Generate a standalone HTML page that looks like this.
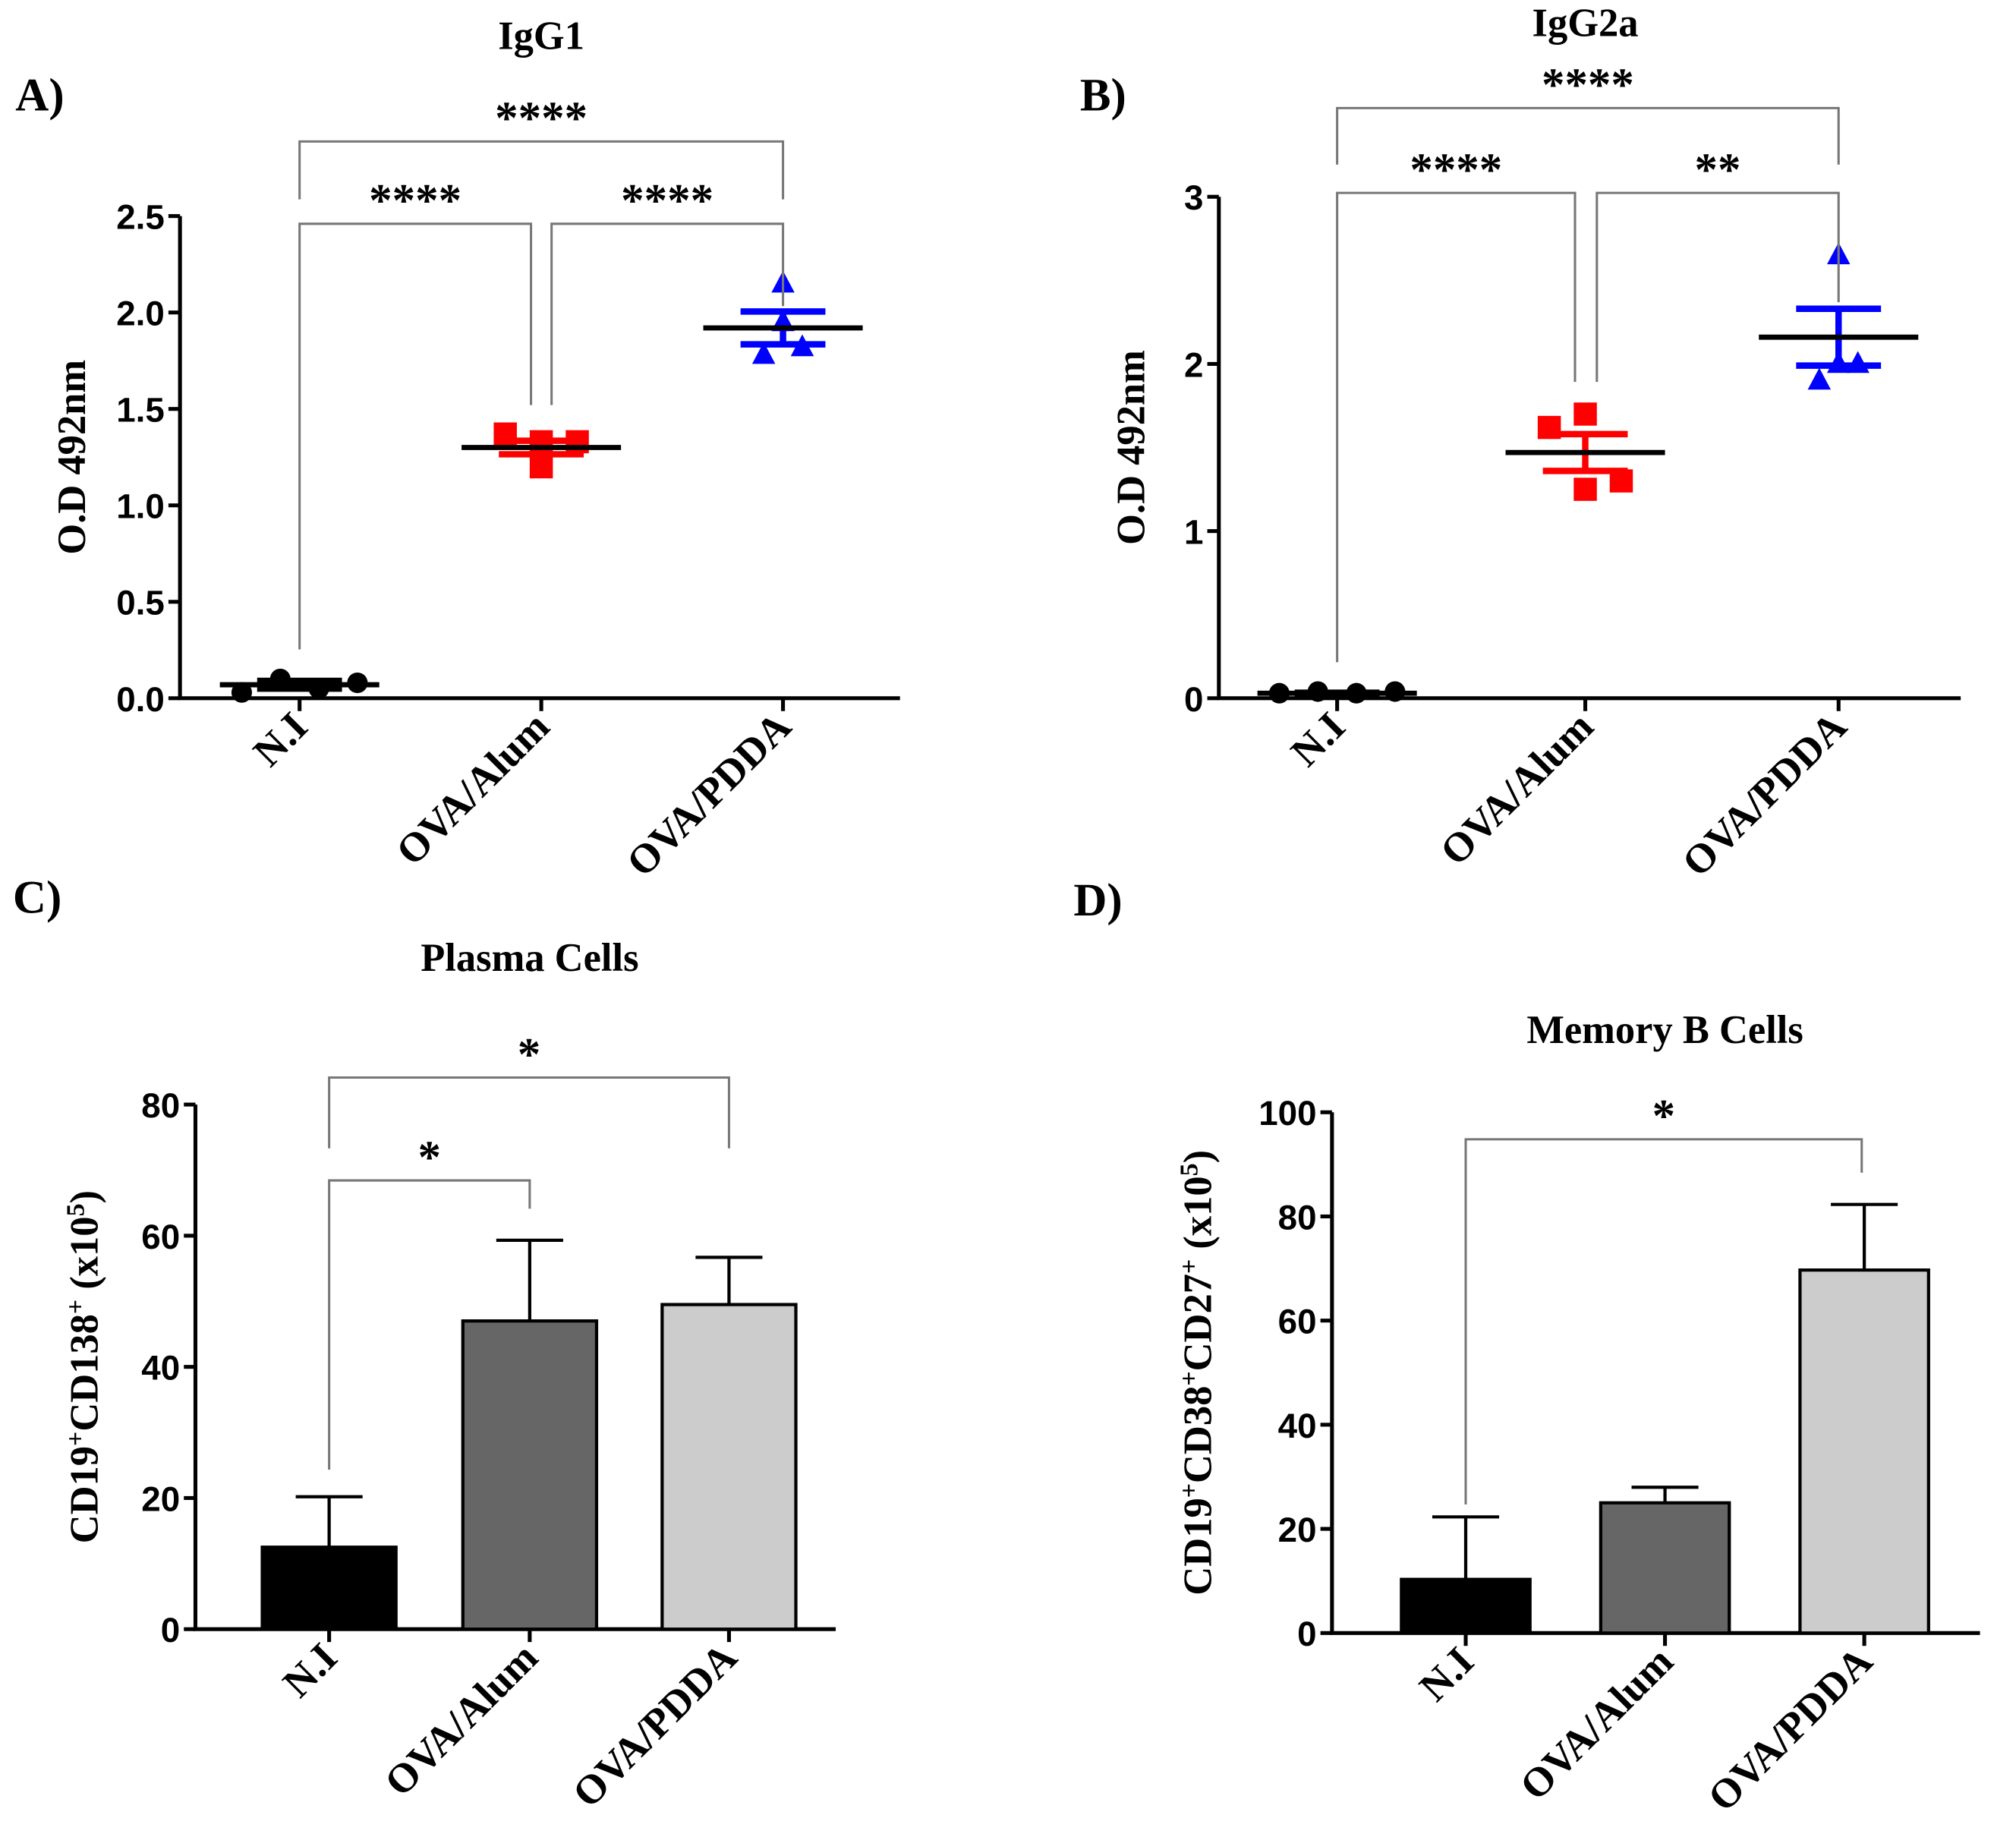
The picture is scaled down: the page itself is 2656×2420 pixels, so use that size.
<!DOCTYPE html>
<html><head><meta charset="utf-8"><style>
html,body{margin:0;padding:0;background:#fff}
svg{display:block}
text{font-family:"Liberation Serif",serif;font-weight:bold;fill:#000}
.tk{font-family:"Liberation Sans",sans-serif;font-weight:bold;font-size:27px}
</style></head><body>
<svg id="s" width="2656" height="2420" viewBox="0 0 1568 1428.6" xmlns="http://www.w3.org/2000/svg"></svg>
<script>
const cats=["N.I","OVA/Alum","OVA/PDDA"];
const aNI=[0.03,0.10,0.05,0.08], aAlum=[1.37,1.20,1.33,1.33], aPDDA=[1.78,2.15,1.95,1.82];
const aMean=[0.07,1.30,1.92], aSem=[0.02,0.035,0.085];
const bNI=[0.03,0.04,0.03,0.04], bAlum=[1.62,1.25,1.70,1.30], bPDDA=[1.90,2.65,2.00,2.00];
const bMean=[0.03,1.47,2.16], bSem=[0.003,0.11,0.17];
const cVals=[12.5,47,49.5], cErr=[20.2,59.3,56.7];
const dVals=[10.3,25,69.7], dErr=[22.3,28,82.3];
const aTicks=["0.0","0.5","1.0","1.5","2.0","2.5"], bTicks=["0","1","2","3"];
const cTicks=["0","20","40","60","80"], dTicks=["0","20","40","60","80","100"];
const jit=[[-45,-15,15,45],[-28,0,0,28],[-15,0,0,15]];
const S=document.getElementById('s'),NS="http://www.w3.org/2000/svg";
function el(t,a,p,txt){const e=document.createElementNS(NS,t);for(const k in a)e.setAttribute(k,a[k]);if(txt!==undefined)e.textContent=txt;(p||S).appendChild(e);return e;}
function panel(o){
 const g=el('g',{});
 
 
 const y=v=>o.y0-(v/o.ymax)*(o.y0-o.ytop);
 const ax=el('path',{d:`M${o.x0} ${o.ytop}V${o.y0}H${o.x1}`,stroke:'#000','stroke-width':3,fill:'none'},g);
 
 o.ticks.forEach(t=>{const v=parseFloat(t),yy=y(v);
  el('line',{x1:o.x0-9,x2:o.x0,y1:yy,y2:yy,stroke:'#000','stroke-width':3},g);
  const tx=el('text',{x:o.x0-12,y:yy+10,'text-anchor':'end',class:'tk'},g,t);
  });
 o.cx.forEach((cx,i)=>{
  el('line',{x1:cx,x2:cx,y1:o.y0,y2:o.y0+10,stroke:'#000','stroke-width':3},g);
  const tx=el('text',{transform:`translate(${cx+8},${o.y0+24}) rotate(-45)`,'text-anchor':'end','font-size':32},g,cats[i]);
  });
 const yt=el('text',{transform:`translate(${o.ytx},${(o.y0+o.ytop)/2}) rotate(-90)`,'text-anchor':'middle','font-size':o.ytfs||31},g);
 yt.innerHTML=o.ytitle;
 
 const tt=el('text',{x:o.tx,y:o.ty,'text-anchor':'middle','font-size':31},g,o.title);
 
 const pl=el('text',{x:o.lx,y:o.ly,'font-size':36},g,o.label);
 
 if(o.scatter){const cols=['#000','#f00','#00f'];
  o.scatter.forEach((arr,i)=>{arr.forEach((v,j)=>{const px=o.cx[i]+jit[i][j],py=y(v);let m;
    if(i==0)m=el('circle',{cx:px,cy:py,r:8,fill:cols[i]},g);
    else if(i==1)m=el('rect',{x:px-9,y:py-9,width:18,height:18,fill:cols[i]},g);
    else m=el('path',{d:`M${px} ${py-10}L${px+9} ${py+7}L${px-9} ${py+7}Z`,fill:cols[i]},g);
    });
   const mn=o.mean[i],se=o.sem[i],c=cols[i];
   el('path',{d:`M${o.cx[i]-33} ${y(mn+se)}H${o.cx[i]+33}M${o.cx[i]-33} ${y(mn-se)}H${o.cx[i]+33}M${o.cx[i]} ${y(mn+se)}V${y(mn-se)}`,stroke:c,'stroke-width':5,fill:'none'},g);
   const ml=el('line',{x1:o.cx[i]-62,x2:o.cx[i]+62,y1:y(mn),y2:y(mn),stroke:'#000','stroke-width':4},g);
   });}
 if(o.bars){const cols=['#000','#666','#ccc'];
  o.bars.forEach((v,i)=>{const cx=o.cx[i];
   el('path',{d:`M${cx} ${y(v)}V${y(o.err[i])}M${cx-26} ${y(o.err[i])}H${cx+26}`,stroke:'#000','stroke-width':2.5,fill:'none'},g);
   const b=el('rect',{x:cx-o.bw/2,y:y(v),width:o.bw,height:o.y0-y(v),fill:cols[i],stroke:'#000','stroke-width':2.5},g);
   });}
 o.br.forEach(b=>{const p=el('path',{d:`M${b[0]} ${b[3]}V${b[2]}H${b[1]}V${b[4]}`,stroke:'#777','stroke-width':1.8,fill:'none'},g);
  
  const t=el('text',{x:(b[0]+b[1])/2,y:b[2]-6,'text-anchor':'middle','font-size':36,'font-family':'Liberation Sans'},g,b[5]);
  });
}
panel({name:'panel-a-igg1',x0:140,x1:700,y0:543,ytop:168,ymax:2.5,ticks:aTicks,cx:[233,421,609],
 ytitle:'O.D 492nm',ytx:66,title:'IgG1',tx:421,ty:38,label:'A)',lx:12,ly:86,
 scatter:[aNI,aAlum,aPDDA],mean:aMean,sem:aSem,
 br:[[233,413,174,505,315,'****'],[429,609,174,315,238,'****'],[233,609,110,155,155,'****']]});
panel({name:'panel-b-igg2a',x0:948,x1:1525,y0:543,ytop:153,ymax:3,ticks:bTicks,cx:[1040,1233,1430],
 ytitle:'O.D 492nm',ytx:890,title:'IgG2a',tx:1233,ty:28,label:'B)',lx:840,ly:86,
 scatter:[bNI,bAlum,bPDDA],mean:bMean,sem:bSem,
 br:[[1040,1225,150,515,297,'****'],[1242,1430,150,297,235,'**'],[1040,1430,84,128,128,'****']]});
panel({name:'panel-c-plasma-cells',x0:152,x1:650,y0:1267,ytop:859,ymax:80,ticks:cTicks,cx:[256,412,567],bw:104,
 ytitle:'CD19<tspan baseline-shift="super" font-size="20">+</tspan>CD138<tspan baseline-shift="super" font-size="20">+</tspan> (x10<tspan baseline-shift="super" font-size="20">5</tspan>)',ytx:76,
 title:'Plasma Cells',tx:412,ty:755,label:'C)',lx:10,ly:710,bars:cVals,err:cErr,
 br:[[256,412,918,1143,940,'*'],[256,567,838,893,893,'*']]});
panel({name:'panel-d-memory-b-cells',x0:1036,x1:1540,y0:1270,ytop:865,ymax:100,ticks:dTicks,cx:[1140,1295,1450],bw:100,
 ytitle:'CD19<tspan baseline-shift="super" font-size="20">+</tspan>CD38<tspan baseline-shift="super" font-size="20">+</tspan>CD27<tspan baseline-shift="super" font-size="20">+</tspan> (x10<tspan baseline-shift="super" font-size="20">5</tspan>)',ytx:942,
 title:'Memory B Cells',tx:1295,ty:811,label:'D)',lx:835,ly:712,bars:dVals,err:dErr,
 br:[[1140,1448,886,1170,912,'*']]});
</script>
</body></html>
